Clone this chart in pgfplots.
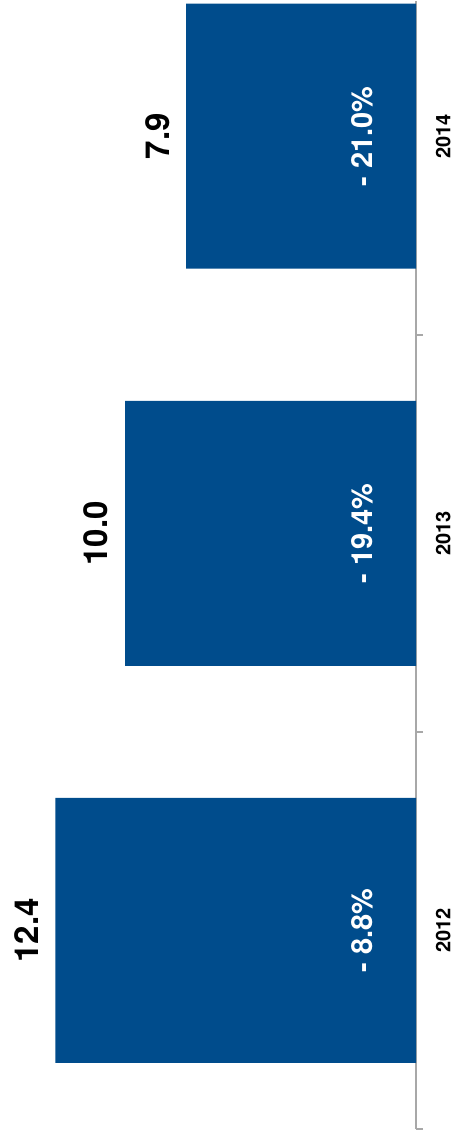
\documentclass[border=0pt]{standalone}
\usepackage{pgfplots}
\pgfplotsset{compat=1.18}
\usepackage{pgfplotstable}
\usepackage{fontspec}
\setmainfont{TeX Gyre Heros}
\definecolor{barblue}{RGB}{0,76,140}
\definecolor{axgray}{RGB}{168,168,168}
\pgfplotstableread{
idx val pct lx
0 12.4 8.8 1.51
1 10.0 19.4 1.51
2 7.9 21.0 1.51
}\datatab
\begin{document}
\begin{tikzpicture}
\begin{axis}[
  scale only axis, width=416pt, height=1128pt,
  x dir=reverse, xmin=0, xmax=14.3,
  ymin=-0.5, ymax=2.341,
  axis x line=none,
  axis y line=right,
  y axis line style={axgray, line width=1.6pt, -},
  ytick={0,1,2},
  yticklabels={\rule{0pt}{34pt}2012,\rule{0pt}{34pt}2013,\rule{0pt}{34pt}2014},
  major tick length=0pt,
  extra y ticks={-0.5,0.5,1.5},
  extra y tick labels={},
  extra y tick style={major tick length=7pt, tick align=outside, major tick style={axgray, line width=1.6pt}},
  yticklabel style={rotate=90, anchor=north, inner sep=0pt, font=\fontsize{20}{20}\selectfont\bfseries},
  /pgf/number format/assume math mode=true,
  clip=false,
]
\addplot[xbar, bar width=265pt, fill=barblue, draw=none,
  nodes near coords={\pgfmathprintnumber[fixed,fixed zerofill,precision=1]{\pgfplotspointmeta}\rule[-17pt]{0pt}{17pt}},
  point meta=x,
  every node near coord/.style={rotate=90, anchor=south, inner sep=0pt, text=black, font=\fontsize{33}{33}\selectfont\bfseries}]
  table[x=val, y=idx] {\datatab};
\addplot[draw=none, mark=none,
  nodes near coords={- \pgfmathprintnumber[fixed,fixed zerofill,precision=1]{\pgfplotspointmeta}\%},
  point meta=explicit,
  every node near coord/.style={rotate=90, anchor=base, inner sep=0pt, text=white, font=\fontsize{29}{29}\selectfont\bfseries}]
  table[x=lx, y=idx, meta=pct] {\datatab};
\path (axis cs:14.3,2.341) (axis cs:0,-0.5) ++(38pt,-2pt);
\end{axis}
\end{tikzpicture}
\end{document}
